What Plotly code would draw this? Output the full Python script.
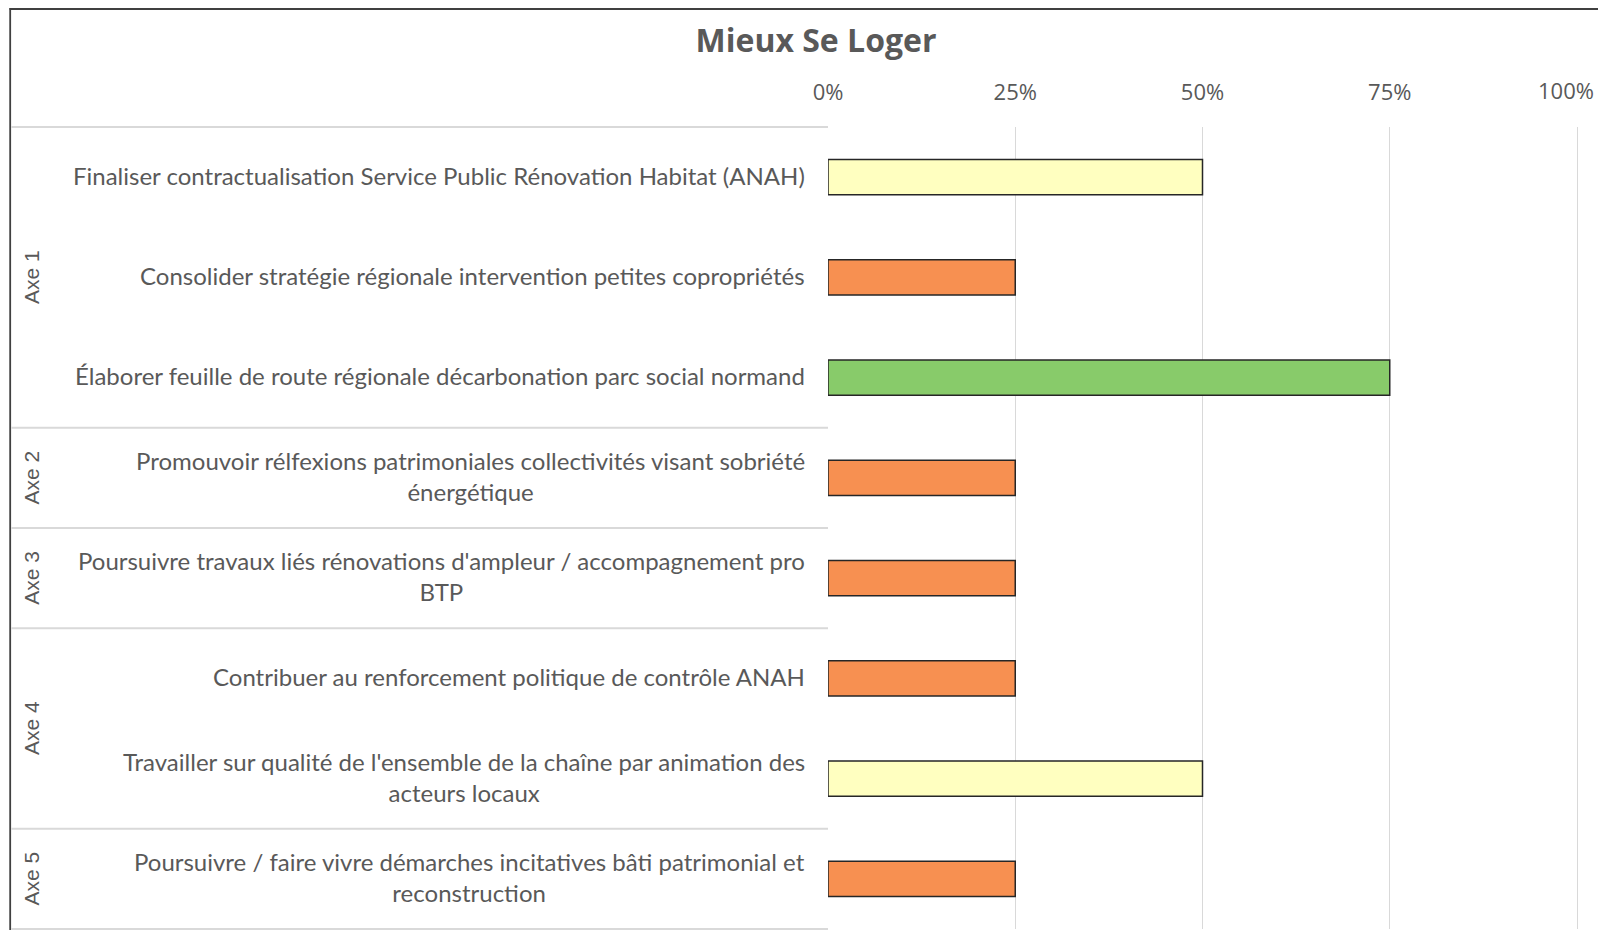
import plotly.graph_objects as go

# ---- data ----
actions = [
    "Finaliser contractualisation Service Public Rénovation Habitat (ANAH)",
    "Consolider stratégie régionale intervention petites copropriétés",
    "Élaborer feuille de route régionale décarbonation parc social normand",
    "Promouvoir rélfexions patrimoniales collectivités visant sobriété<br>énergétique",
    "Poursuivre travaux liés rénovations d'ampleur / accompagnement pro<br>BTP",
    "Contribuer au renforcement politique de contrôle ANAH",
    "Travailler sur qualité de l'ensemble de la chaîne par animation des<br>acteurs locaux",
    "Poursuivre / faire vivre démarches incitatives bâti patrimonial et<br>reconstruction",
]
progress = [0.50, 0.25, 0.75, 0.25, 0.25, 0.25, 0.50, 0.25]
bar_colors = ["#FFFFC0", "#F79051", "#88CB6A", "#F79051", "#F79051", "#F79051", "#FFFFC0", "#F79051"]
groups = ["Axe 1", "Axe 2", "Axe 3", "Axe 4", "Axe 5"]
group_sizes = [3, 1, 1, 2, 1]
tick_vals = [0, 0.25, 0.5, 0.75, 1.0]
tick_text = ["0%", "25%", "50%", "75%", "100%"]
title = "Mieux Se Loger"

# ---- layout geometry (page pixels; the page body has an 8px margin) ----
OFF = 8
XMAX = 1.004  # a little room so the 100% gridline is drawn
W, H = 1606 - OFF, 922
L, T, B = 827.5 - OFF, 127 - OFF, 929 - OFF
R = L + 750 * XMAX
pw, ph = R - L, B - T

def px_x(x):
    return (x - OFF - L) / pw

def px_y(y):
    return (B - (y - OFF)) / ph

TEXT = "#595959"
GRID = "#D9D9D9"
TICKFONT = dict(family="Open Sans", size=22, color=TEXT)
n = len(actions)

fig = go.Figure()
fig.add_trace(go.Bar(
    x=progress, y=actions, orientation="h",
    marker=dict(color=bar_colors, line=dict(color="#262626", width=1.5)),
    width=0.35, hoverinfo="x+y",
))

annotations = []
for a in actions:
    annotations.append(dict(
        x=px_x(806), xref="paper", y=a, yref="y", yshift=2,
        text=a, showarrow=False, xanchor="right", yanchor="middle", align="center",
        font=dict(family="Lato", size=24, color=TEXT),
    ))

# last tick label sits at the page edge: drawn as an annotation kept inside the page
annotations.append(dict(
    x=tick_vals[-1], xref="x", y=px_y(90.5), yref="paper", xshift=19,
    text=tick_text[-1], showarrow=False, xanchor="right", yanchor="middle",
    font=TICKFONT,
))

shapes = []
start = 0
bounds = [0]
for g, s in zip(groups, group_sizes):
    annotations.append(dict(
        x=px_x(30), xref="paper", y=1 - (start + s / 2) / n, yref="paper",
        text=g, showarrow=False, textangle=-90, xanchor="center", yanchor="middle",
        font=dict(family="Liberation Sans", size=21, color=TEXT),
    ))
    start += s
    bounds.append(start)
for k in bounds:
    shapes.append(dict(type="line", xref="paper", yref="paper",
                       x0=px_x(10), x1=0, y0=1 - k / n, y1=1 - k / n,
                       line=dict(color=GRID, width=2)))
# outer frame (left and top edges visible)
shapes.append(dict(type="line", xref="paper", yref="paper",
                   x0=px_x(8.6), x1=px_x(8.6), y0=px_y(960), y1=px_y(8),
                   line=dict(color="#404040", width=1.8)))
shapes.append(dict(type="line", xref="paper", yref="paper",
                   x0=px_x(8), x1=px_x(1620), y0=px_y(9), y1=px_y(9),
                   line=dict(color="#404040", width=1.8)))

fig.update_layout(
    width=W, height=H,
    margin=dict(l=L, r=W - R, t=T, b=H - B, pad=0),
    paper_bgcolor="white", plot_bgcolor="white",
    showlegend=False,
    title=dict(text=title, x=(816 - OFF) / W, xref="container", xanchor="center",
               y=1 - (41 - OFF) / H, yref="container", yanchor="middle",
               font=dict(family="Open Sans", size=32, color=TEXT, weight="bold")),
    xaxis=dict(side="top", range=[0, XMAX], tickvals=tick_vals,
               ticktext=tick_text[:-1] + [""],
               showgrid=True, gridcolor=GRID, gridwidth=1, zeroline=False,
               showline=False, ticks="", ticklabelstandoff=22,
               automargin=False, ticklabeloverflow="allow",
               tickfont=TICKFONT),
    yaxis=dict(range=[n - 0.5, -0.5], showticklabels=False, showgrid=False,
               zeroline=False, showline=False, ticks="", automargin=False),
    annotations=annotations, shapes=shapes,
)

fig.write_html("out.html")
